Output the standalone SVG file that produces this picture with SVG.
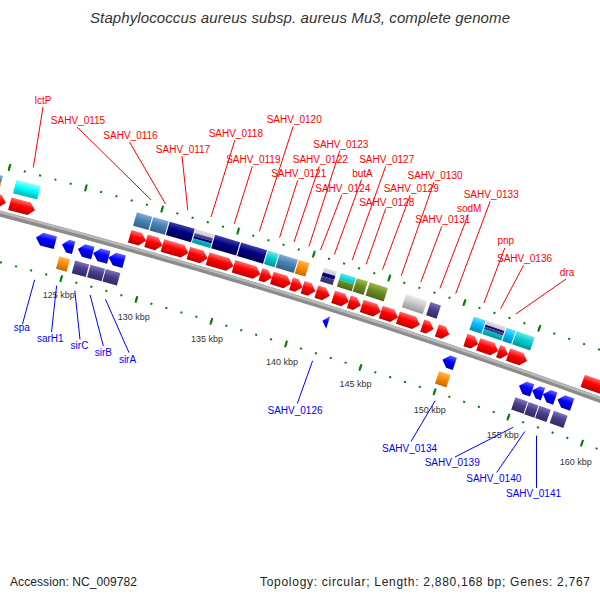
<svg xmlns="http://www.w3.org/2000/svg" width="600" height="600" viewBox="0 0 600 600">
<defs>
<linearGradient id="gR" x1="0" y1="0" x2="0" y2="1"><stop offset="0" stop-color="#ff7070"/><stop offset=".45" stop-color="#ff0000"/><stop offset="1" stop-color="#c00000"/></linearGradient>
<linearGradient id="gB" x1="0" y1="0" x2="0" y2="1"><stop offset="0" stop-color="#6060ff"/><stop offset=".45" stop-color="#0000ff"/><stop offset="1" stop-color="#0000b4"/></linearGradient>
<linearGradient id="gSt" x1="0" y1="0" x2="0" y2="1"><stop offset="0" stop-color="#80acd4"/><stop offset=".45" stop-color="#4682b4"/><stop offset="1" stop-color="#33618a"/></linearGradient>
<linearGradient id="gNv" x1="0" y1="0" x2="0" y2="1"><stop offset="0" stop-color="#4040a8"/><stop offset=".45" stop-color="#000080"/><stop offset="1" stop-color="#000058"/></linearGradient>
<linearGradient id="gCy" x1="0" y1="0" x2="0" y2="1"><stop offset="0" stop-color="#a0ffff"/><stop offset=".45" stop-color="#00ffff"/><stop offset="1" stop-color="#00b8b8"/></linearGradient>
<linearGradient id="gTq" x1="0" y1="0" x2="0" y2="1"><stop offset="0" stop-color="#70e6e8"/><stop offset=".45" stop-color="#00ced1"/><stop offset="1" stop-color="#009698"/></linearGradient>
<linearGradient id="gOr" x1="0" y1="0" x2="0" y2="1"><stop offset="0" stop-color="#ffb450"/><stop offset=".45" stop-color="#ff8c00"/><stop offset="1" stop-color="#c46a00"/></linearGradient>
<linearGradient id="gPu" x1="0" y1="0" x2="0" y2="1"><stop offset="0" stop-color="#7c72ba"/><stop offset=".45" stop-color="#483d8b"/><stop offset="1" stop-color="#322a66"/></linearGradient>
<linearGradient id="gOl" x1="0" y1="0" x2="0" y2="1"><stop offset="0" stop-color="#9cbc54"/><stop offset=".45" stop-color="#6b8e23"/><stop offset="1" stop-color="#4d6818"/></linearGradient>
<linearGradient id="gSi" x1="0" y1="0" x2="0" y2="1"><stop offset="0" stop-color="#ececec"/><stop offset=".45" stop-color="#c8c8c8"/><stop offset="1" stop-color="#9a9a9a"/></linearGradient>
<linearGradient id="gSk" x1="0" y1="0" x2="0" y2="1"><stop offset="0" stop-color="#70dcff"/><stop offset=".45" stop-color="#00bfff"/><stop offset="1" stop-color="#008bbd"/></linearGradient>
<linearGradient id="gSh" x1="0" y1="0" x2="0" y2="1"><stop offset="0" stop-color="#fff" stop-opacity=".4"/><stop offset=".4" stop-color="#fff" stop-opacity="0"/><stop offset=".55" stop-color="#000" stop-opacity="0"/><stop offset="1" stop-color="#000" stop-opacity=".28"/></linearGradient>
</defs>
<style>
.fw{fill:url(#gR)}
.rv{fill:url(#gB)}
.st{fill:url(#gSt)}
.nv{fill:url(#gNv)}
.cy{fill:url(#gCy)}
.tq{fill:url(#gTq)}
.or{fill:url(#gOr)}
.pu{fill:url(#gPu)}
.ol{fill:url(#gOl)}
.si{fill:url(#gSi)}
.sk{fill:url(#gSk)}
.sh{fill:url(#gSh)}
.fGr{fill:#c8c8c8}.fNv{fill:#000080}.fPu{fill:#483d8b}.fTq{fill:#00ced1}.fSt{fill:#4682b4}.fOr{fill:#ff8c00}.fOl{fill:#6b8e23}
text{font-family:"Liberation Sans",Arial,sans-serif}
.lr{fill:#ff0000;font-size:10px;text-anchor:middle}
.lb{fill:#0000ff;font-size:10px;text-anchor:middle}
.tk{fill:#333;font-size:9px;text-anchor:middle}
.ring{fill:none;stroke:#008000}
#conn-top line{stroke:#ff0000;stroke-width:1}
#conn-bot line{stroke:#0000ff;stroke-width:1}
</style>
<rect width="600" height="600" fill="#fff"/>
<text x="300" y="23" font-size="15" font-style="italic" fill="#333" text-anchor="middle" textLength="420" lengthAdjust="spacing">Staphylococcus aureus subsp. aureus Mu3, complete genome</text>
<g id="map" transform="translate(-1712 6792.5)">
<g id="rings" transform="rotate(17.215)">
<path id="backbone" d="M-392.68-6786.65A6798 6798 0 0 1 392.68-6786.65" fill="none" stroke="#8c8c8c" stroke-width="6"/>
<path d="M-392.77-6788.14A6799.5 6799.5 0 0 1 392.77-6788.14" fill="none" stroke="#b8b8b8" stroke-width="2.5"/>
<path class="ring" d="M-395.40-6833.57A6845 6845 0 0 1 395.40-6833.57" stroke-width="2" stroke-dasharray="2 13.8247" stroke-dashoffset="1"/>
<path class="ring" d="M-395.40-6833.57A6845 6845 0 0 1 395.40-6833.57" stroke-width="7" stroke-dasharray="2 77.1235" stroke-dashoffset="1"/>
<path class="ring" d="M-389.97-6739.73A6751 6751 0 0 1 389.97-6739.73" stroke-width="2" stroke-dasharray="2 13.6074" stroke-dashoffset="1"/>
<path class="ring" d="M-389.97-6739.73A6751 6751 0 0 1 389.97-6739.73" stroke-width="7" stroke-dasharray="2 76.037" stroke-dashoffset="1"/>
</g>
<g id="gene-left" transform="rotate(14.3081)"><path class="fw" d="M0-6816.5h30l6 6.5-6 6.5H0z"/><rect class="fSt" x=".5" y="-6835" width="26" height="7"/><rect class="fOr" x=".5" y="-6828" width="26" height="7"/><rect class="sh" x=".5" y="-6835" width="26" height="14"/></g>
<g id="gene-lctP" transform="rotate(14.6451)"><path class="fw" d="M0-6816.5h20l6 6.5-6 6.5H0z"/><rect class="cy" x=".5" y="-6835" width="25" height="14"/></g>
<g id="gene-SAHV_0115" transform="rotate(15.6899)"><path class="fw" d="M0-6816.5h11l6 6.5-6 6.5H0z"/><rect class="st" x=".5" y="-6835" width="16" height="14"/></g>
<g id="gene-SAHV_0116" transform="rotate(15.8332)"><path class="fw" d="M0-6816.5h11l6 6.5-6 6.5H0z"/><rect class="st" x=".5" y="-6835" width="16" height="14"/></g>
<g id="gene-SAHV_0117" transform="rotate(15.9764)"><path class="fw" d="M0-6816.5h21l6 6.5-6 6.5H0z"/><rect class="nv" x=".5" y="-6835" width="26" height="14"/></g>
<g id="gene-SAHV_0118" transform="rotate(16.2039)"><path class="fw" d="M0-6816.5h14l6 6.5-6 6.5H0z"/><rect class="fGr" x=".5" y="-6835" width="19" height="4"/><rect class="fPu" x=".5" y="-6831" width="19" height="3"/><rect class="fNv" x=".5" y="-6828" width="19" height="2.5"/><rect class="fTq" x=".5" y="-6825.5" width="19" height="4.5"/><rect class="sh" x=".5" y="-6835" width="19" height="14"/></g>
<g id="gene-SAHV_0119" transform="rotate(16.3724)"><path class="fw" d="M0-6816.5h21l6 6.5-6 6.5H0z"/><rect class="nv" x=".5" y="-6835" width="26" height="14"/></g>
<g id="gene-SAHV_0120" transform="rotate(16.5999)"><path class="fw" d="M0-6816.5h22l6 6.5-6 6.5H0z"/><rect class="nv" x=".5" y="-6835" width="27" height="14"/></g>
<g id="gene-SAHV_0121" transform="rotate(16.8358)"><path class="fw" d="M0-6816.5h6l6 6.5-6 6.5H0z"/><rect class="tq" x=".5" y="-6835" width="11" height="14"/></g>
<g id="gene-SAHV_0122" transform="rotate(16.9369)"><path class="fw" d="M0-6816.5h14l6 6.5-6 6.5H0z"/><rect class="st" x=".5" y="-6835" width="19" height="14"/></g>
<g id="gene-SAHV_0123" transform="rotate(17.1055)"><path class="fw" d="M0-6816.5h6l6 6.5-6 6.5H0z"/><rect class="or" x=".5" y="-6835" width="11" height="14"/></g>
<g id="gene-SAHV_0124" transform="rotate(17.2066)"><path class="fw" d="M0-6816.5h7.5l6 6.5-6 6.5H0z"/></g>
<g id="gene-butA" transform="rotate(17.3287)"><path class="fw" d="M0-6816.5h8l6 6.5-6 6.5H0z"/><rect class="fGr" x=".5" y="-6835" width="13" height="4.5"/><rect class="fNv" x=".5" y="-6830.5" width="13" height="4"/><rect class="fPu" x=".5" y="-6826.5" width="13" height="5.5"/><rect class="sh" x=".5" y="-6835" width="13" height="14"/></g>
<g id="gene-SAHV_0126" transform="rotate(17.4509)"><path class="rv" d="M0-6784l6-6.5v13z"/></g>
<g id="gene-SAHV_0127" transform="rotate(17.4762)"><path class="fw" d="M0-6816.5h10.5l6 6.5-6 6.5H0z"/><rect class="fTq" x=".5" y="-6835" width="15.5" height="7"/><rect class="fOl" x=".5" y="-6828" width="15.5" height="7"/><rect class="sh" x=".5" y="-6835" width="15.5" height="14"/></g>
<g id="gene-SAHV_0128" transform="rotate(17.6152)"><path class="fw" d="M0-6816.5h6.5l6 6.5-6 6.5H0z"/><rect class="ol" x=".5" y="-6835" width="11.5" height="14"/></g>
<g id="gene-SAHV_0129" transform="rotate(17.7290)"><path class="fw" d="M0-6816.5h14l6 6.5-6 6.5H0z"/><rect class="ol" x=".5" y="-6835" width="19" height="14"/></g>
<g id="gene-SAHV_0130" transform="rotate(17.8975)"><path class="fw" d="M0-6816.5h12l6 6.5-6 6.5H0z"/></g>
<g id="gene-SAHV_0131" transform="rotate(18.0492)"><path class="fw" d="M0-6816.5h17l6 6.5-6 6.5H0z"/><rect class="si" x=".5" y="-6835" width="22" height="14"/></g>
<g id="gene-sodM" transform="rotate(18.2640)"><path class="fw" d="M0-6816.5h6l6 6.5-6 6.5H0z"/><rect class="pu" x=".5" y="-6835" width="11" height="14"/></g>
<g id="gene-SAHV_0133" transform="rotate(18.3946)"><path class="fw" d="M0-6816.5h7l6 6.5-6 6.5H0z"/></g>
<g id="gene-SAHV_0134" transform="rotate(18.5168)"><path class="rv" d="M0-6784l6-6.5H13v13H6z"/><rect class="or" x=".5" y="-6772" width="12" height="13"/></g>
<g id="gene-pnp" transform="rotate(18.6474)"><path class="fw" d="M0-6816.5h7.5l6 6.5-6 6.5H0z"/><rect class="sk" x=".5" y="-6835" width="12.5" height="14"/></g>
<g id="gene-SAHV_0136" transform="rotate(18.7612)"><path class="fw" d="M0-6816.5h15l6 6.5-6 6.5H0z"/><rect class="fGr" x=".5" y="-6835" width="20" height="4"/><rect class="fNv" x=".5" y="-6831" width="20" height="2"/><rect class="fPu" x=".5" y="-6829" width="20" height="3"/><rect class="fTq" x=".5" y="-6826" width="20" height="5"/><rect class="sh" x=".5" y="-6835" width="20" height="14"/></g>
<g id="gene-dra" transform="rotate(18.9381)"><path class="fw" d="M0-6816.5h4.5l6 6.5-6 6.5H0z"/><rect class="sk" x=".5" y="-6835" width="9.5" height="14"/></g>
<g id="gene-SAHV_0138" transform="rotate(19.0266)"><path class="fw" d="M0-6816.5h14l6 6.5-6 6.5H0z"/><rect class="tq" x=".5" y="-6835" width="19" height="14"/></g>
<g id="gene-right" transform="rotate(19.6922)"><path class="fw" d="M0-6816.5h40l6 6.5-6 6.5H0z"/></g>
<g id="gene-spa" transform="rotate(14.9316)"><path class="rv" d="M0-6784l6-6.5H20v13H6z"/></g>
<g id="gene-sarH1" transform="rotate(15.1591)"><path class="rv" d="M0-6784l6-6.5H12v13H6z"/><rect class="or" x=".5" y="-6772" width="11" height="13"/></g>
<g id="gene-sirC" transform="rotate(15.2981)"><path class="rv" d="M0-6784l6-6.5H15.5v13H6z"/><rect class="pu" x=".5" y="-6772" width="14.5" height="13"/></g>
<g id="gene-sirB" transform="rotate(15.4329)"><path class="rv" d="M0-6784l6-6.5H16v13H6z"/><rect class="pu" x=".5" y="-6772" width="15" height="13"/></g>
<g id="gene-sirA" transform="rotate(15.5677)"><path class="rv" d="M0-6784l6-6.5H16v13H6z"/><rect class="pu" x=".5" y="-6772" width="15" height="13"/></g>
<g id="gene-SAHV_0139" transform="rotate(19.1993)"><path class="rv" d="M0-6784l6-6.5H14v13H6z"/><rect class="pu" x=".5" y="-6772" width="13" height="13"/></g>
<g id="gene-SAHV_0140" transform="rotate(19.3173)"><path class="rv" d="M0-6784l6-6.5H11.5v13H6z"/><rect class="pu" x=".5" y="-6772" width="10.5" height="13"/></g>
<g id="gene-SAHV_0141" transform="rotate(19.4142)"><path class="rv" d="M0-6784l6-6.5H13v13H6z"/><rect class="pu" x=".5" y="-6772" width="12" height="13"/></g>
<g id="gene-SAHV_0142" transform="rotate(19.5448)"><path class="rv" d="M0-6784l6-6.5H15.5v13H6z"/><rect class="pu" x=".5" y="-6772" width="14.5" height="13"/></g>
</g>
<g id="tick-labels">
<text class="tk" x="58.8" y="298">125 kbp</text>
<text class="tk" x="133.7" y="319.5">130 kbp</text>
<text class="tk" x="207" y="341.5">135 kbp</text>
<text class="tk" x="282" y="364.5">140 kbp</text>
<text class="tk" x="355.5" y="387">145 kbp</text>
<text class="tk" x="429.7" y="412.5">150 kbp</text>
<text class="tk" x="502.8" y="438">155 kbp</text>
<text class="tk" x="575.8" y="464.5">160 kbp</text>
</g>
<g id="conn-top">
<line x1="43" y1="107" x2="33.3" y2="167.6"/>
<line x1="77" y1="127" x2="151" y2="199.8"/>
<line x1="129.5" y1="142" x2="165.5" y2="203.9"/>
<line x1="182" y1="156" x2="187.8" y2="210.3"/>
<line x1="234.8" y1="140.3" x2="211" y2="217"/>
<line x1="252.3" y1="166.3" x2="234.2" y2="223.9"/>
<line x1="293.2" y1="126.3" x2="259.3" y2="231.4"/>
<line x1="297.7" y1="180.3" x2="279.6" y2="237.5"/>
<line x1="319.3" y1="166.3" x2="294" y2="241.9"/>
<line x1="339.8" y1="150.7" x2="308.9" y2="246.5"/>
<line x1="341.8" y1="194.7" x2="320.5" y2="250"/>
<line x1="361.5" y1="179.7" x2="334.4" y2="254.4"/>
<line x1="385.7" y1="166.3" x2="352.2" y2="260"/>
<line x1="385.7" y1="208.7" x2="366.1" y2="264.4"/>
<line x1="410.2" y1="195.3" x2="382.5" y2="269.6"/>
<line x1="434" y1="182" x2="401.2" y2="275.7"/>
<line x1="441.8" y1="226.3" x2="420.8" y2="282.1"/>
<line x1="468.2" y1="214.7" x2="439.9" y2="288.4"/>
<line x1="490.2" y1="201.3" x2="455.7" y2="293.6"/>
<line x1="504.8" y1="248" x2="483.9" y2="303.1"/>
<line x1="523.5" y1="265.3" x2="500.6" y2="308.7"/>
<line x1="566" y1="279" x2="515.9" y2="314"/>
</g>
<g id="conn-bot">
<line x1="34.6" y1="279.8" x2="22.5" y2="324"/>
<line x1="56.6" y1="285.7" x2="51.5" y2="332"/>
<line x1="74.8" y1="290.7" x2="80" y2="339.5"/>
<line x1="90.1" y1="294.9" x2="103.3" y2="346"/>
<line x1="105.4" y1="299.2" x2="129" y2="352.7"/>
<line x1="312.6" y1="360.8" x2="297.3" y2="403.5"/>
<line x1="435.2" y1="400.7" x2="411" y2="441.5"/>
<line x1="513.1" y1="427.3" x2="455" y2="457"/>
<line x1="524.8" y1="431.5" x2="496.7" y2="472.5"/>
<line x1="536.5" y1="435.6" x2="536.5" y2="488"/>
</g>
<g id="labels">
<text id="l-lctP" class="lr" x="43" y="104">lctP</text>
<text id="l-0115" class="lr" x="78" y="124">SAHV_0115</text>
<text id="l-0116" class="lr" x="130.5" y="139">SAHV_0116</text>
<text id="l-0117" class="lr" x="183" y="153">SAHV_0117</text>
<text id="l-0118" class="lr" x="235.8" y="137.3">SAHV_0118</text>
<text id="l-0119" class="lr" x="253.3" y="163.3">SAHV_0119</text>
<text id="l-0120" class="lr" x="294.2" y="123.3">SAHV_0120</text>
<text id="l-0121" class="lr" x="298.7" y="177.3">SAHV_0121</text>
<text id="l-0122" class="lr" x="320.3" y="163.3">SAHV_0122</text>
<text id="l-0123" class="lr" x="340.8" y="147.7">SAHV_0123</text>
<text id="l-0124" class="lr" x="342.8" y="191.7">SAHV_0124</text>
<text id="l-butA" class="lr" x="362.5" y="176.7">butA</text>
<text id="l-0127" class="lr" x="386.7" y="163.3">SAHV_0127</text>
<text id="l-0128" class="lr" x="386.7" y="205.7">SAHV_0128</text>
<text id="l-0129" class="lr" x="411.2" y="192.3">SAHV_0129</text>
<text id="l-0130" class="lr" x="435" y="179">SAHV_0130</text>
<text id="l-0131" class="lr" x="442.8" y="223.3">SAHV_0131</text>
<text id="l-sodM" class="lr" x="469.2" y="211.7">sodM</text>
<text id="l-0133" class="lr" x="491.2" y="198.3">SAHV_0133</text>
<text id="l-pnp" class="lr" x="505.8" y="244">pnp</text>
<text id="l-0136" class="lr" x="524.5" y="262.3">SAHV_0136</text>
<text id="l-dra" class="lr" x="567" y="276">dra</text>
<text id="l-spa" class="lb" x="21.7" y="331">spa</text>
<text id="l-sarH1" class="lb" x="50.3" y="341.7">sarH1</text>
<text id="l-sirC" class="lb" x="79.5" y="349.3">sirC</text>
<text id="l-sirB" class="lb" x="103.3" y="356">sirB</text>
<text id="l-sirA" class="lb" x="127.5" y="362.7">sirA</text>
<text id="l-0126" class="lb" x="295" y="414.3">SAHV_0126</text>
<text id="l-0134" class="lb" x="409.5" y="452">SAHV_0134</text>
<text id="l-0139" class="lb" x="452.2" y="466">SAHV_0139</text>
<text id="l-0140" class="lb" x="493.8" y="482">SAHV_0140</text>
<text id="l-0141" class="lb" x="533.5" y="497">SAHV_0141</text>
</g>
<g id="footer" font-size="12" fill="#222">
<text x="10" y="586" textLength="127" lengthAdjust="spacing">Accession: NC_009782</text>
<text x="260" y="586" textLength="330" lengthAdjust="spacing">Topology: circular; Length: 2,880,168 bp; Genes: 2,767</text>
</g>
</svg>
